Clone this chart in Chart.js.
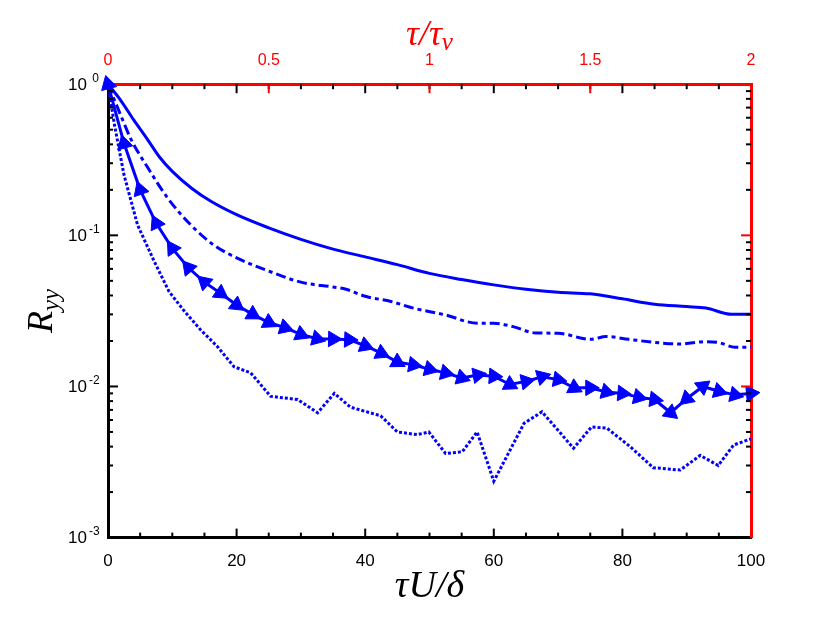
<!DOCTYPE html>
<html>
<head>
<meta charset="utf-8">
<script src="https://cdn.jsdelivr.net/npm/chart.js@4.4.1/dist/chart.umd.min.js"></script>
<style>
  html, body { margin: 0; padding: 0; background: #fff; }
  #wrap { width: 830px; height: 623px; }
</style>
</head>
<body>
<div id="wrap"><canvas id="myChart" width="830" height="623"></canvas></div>
<script>
// tau U / delta  and R_yy
const solidX = [0, 2, 4, 6, 8, 10, 13, 16, 20, 25, 30, 35, 40, 45, 50, 55, 60, 65, 70, 75, 80, 85, 90, 93, 97, 100];
const solidY = [1, 0.78, 0.58, 0.44, 0.33, 0.265, 0.205, 0.168, 0.137, 0.112, 0.094, 0.081, 0.072, 0.064, 0.056, 0.051, 0.047, 0.044, 0.042, 0.041, 0.038, 0.035, 0.0338, 0.033, 0.030, 0.030];

const dashX = [0, 2, 3.6, 6.2, 9.3, 12.9, 16.5, 20, 25, 30, 35, 37, 40, 44, 47.5, 52.5, 57.5, 60, 63, 66.5, 70, 75, 77.5, 81, 86, 89, 93, 95, 97.5, 100];
const dashY = [1, 0.62, 0.43, 0.28, 0.176, 0.117, 0.086, 0.071, 0.058, 0.049, 0.0455, 0.044, 0.0395, 0.0365, 0.033, 0.0297, 0.0262, 0.0262, 0.0249, 0.0226, 0.0225, 0.0205, 0.0214, 0.0205, 0.0194, 0.0191, 0.0198, 0.0195, 0.0182, 0.0182];

const markX = [0, 2.5, 5, 7.5, 10, 12.5, 15, 17.5, 20, 22.5, 25, 27.5, 30, 32.5, 35, 37.5, 40, 42.5, 45, 47.5, 50, 52.5, 55, 57.5, 60, 62.5, 65, 67.5, 70, 72.5, 75, 77.5, 80, 82.5, 85, 87.5, 90, 92.5, 95, 97.5, 100];
const markY = [1, 0.405, 0.20, 0.12, 0.082, 0.061, 0.049, 0.0414, 0.0346, 0.030, 0.0265, 0.0245, 0.0221, 0.0207, 0.0206, 0.0204, 0.0186, 0.0166, 0.0145, 0.0139, 0.0130, 0.0123, 0.0114, 0.0119, 0.0117, 0.0103, 0.0108, 0.0116, 0.0111, 0.0098, 0.0098, 0.0092, 0.0090, 0.0085, 0.0082, 0.0067, 0.0083, 0.0100, 0.0093, 0.0088, 0.0090];

const dotX = [0, 1, 2.5, 4.6, 7.2, 9.5, 12, 14.4, 17, 19.6, 22.2, 25.3, 29.5, 32.6, 35.2, 37.7, 42.4, 45, 48.1, 49.9, 52.5, 55.1, 57.4, 60, 64.7, 67.5, 72.4, 75.2, 77.6, 81.2, 84.8, 89, 92.1, 94.9, 97.3, 100];
const dotY = [1, 0.54, 0.25, 0.117, 0.067, 0.0424, 0.031, 0.0237, 0.0184, 0.0135, 0.0123, 0.0086, 0.0082, 0.0067, 0.0090, 0.0073, 0.0064, 0.0050, 0.0048, 0.0050, 0.0036, 0.0037, 0.0050, 0.00236, 0.0057, 0.0068, 0.0039, 0.0054, 0.0053, 0.0040, 0.0029, 0.0028, 0.0035, 0.0030, 0.0041, 0.0045];

// tick labels
const bottomTicks = [0, 20, 40, 60, 80, 100];
const topTicks = ['0', '0.5', '1', '1.5', '2'];
const yDecades = [0, -1, -2, -3];

const BLUE = '#0000ff';
const RED = '#ff0000';

function pairs(xs, ys) {
    return xs.map(function(x, i) { return { x: x, y: ys[i] }; });
}

// markers that point back along the curve
const backMarkers = [0, 1, 2, 3, 4, 5, 6, 36];

function markerRotation(ctx) {
    const i = ctx.dataIndex;
    const sx = ctx.chart.scales.x, sy = ctx.chart.scales.y;
    const px = function(k) { return [sx.getPixelForValue(markX[k]), sy.getPixelForValue(markY[k])]; };
    let a, b;
    if (backMarkers.indexOf(i) >= 0) {
        if (i === 0) { a = px(1); b = px(0); } else { a = px(i); b = px(i - 1); }
    } else {
        a = px(i - 1); b = px(i);
    }
    return Math.atan2(b[1] - a[1], b[0] - a[0]) * 180 / Math.PI + 90;
}

const decorPlugin = {
    id: 'decor',
    afterDraw: function(chart) {
        const c = chart.ctx, ca = chart.chartArea;
        const sx = chart.scales.x, sx2 = chart.scales.x2, sy = chart.scales.y;
        c.save();
        c.lineWidth = 2;
        function seg(x1, y1, x2, y2, col) {
            c.strokeStyle = col;
            c.beginPath(); c.moveTo(x1, y1); c.lineTo(x2, y2); c.stroke();
        }
        // bottom axis ticks, mirrored on top
        for (let v = 0; v <= 100; v += 5) {
            const x = sx.getPixelForValue(v);
            const len = (v % 20 === 0) ? 9 : 5;
            if (v > 0 && v < 100) {
                seg(x, ca.bottom, x, ca.bottom - len, '#000');
                seg(x, ca.top, x, ca.top + len, '#000');
            }
        }
        // top axis major ticks (red)
        for (let v = 0.5; v < 2; v += 0.5) {
            const x = sx2.getPixelForValue(v);
            seg(x, ca.top, x, ca.top + 9, RED);
        }
        // log ticks left and right
        for (let e = -3; e < 0; e++) {
            for (let m = 2; m <= 9; m++) {
                const y = sy.getPixelForValue(m * Math.pow(10, e));
                seg(ca.left, y, ca.left + 5, y, '#000');
                seg(ca.right, y, ca.right - 5, y, '#000');
            }
        }
        yDecades.forEach(function(e) {
            const y = sy.getPixelForValue(Math.pow(10, e));
            if (e > -3 && e < 0) {
                seg(ca.left, y, ca.left + 10, y, '#000');
                seg(ca.right, y, ca.right - 10, y, RED);
            }
            // y tick labels 10^e
            c.fillStyle = '#000';
            c.textBaseline = 'middle';
            c.textAlign = 'right';
            c.font = '17px "Liberation Sans", Arial, sans-serif';
            c.fillText('10', 87, y + 1);
            c.textAlign = 'left';
            c.font = '12px "Liberation Sans", Arial, sans-serif';
            c.fillText(e === 0 ? ' 0' : String(e), 89, y - 6);
        });

        // axis titles
        const serif = '"Liberation Serif", "DejaVu Serif", serif';
        c.textBaseline = 'alphabetic';
        // top title  tau / tau_v
        c.fillStyle = RED;
        c.font = 'italic 36px ' + serif;
        let t1 = '\u03c4/\u03c4';
        let w1 = c.measureText(t1).width;
        c.font = 'italic 25px ' + serif;
        let w1s = c.measureText('v').width;
        let x0 = (ca.left + ca.right) / 2 - (w1 + w1s) / 2;
        c.font = 'italic 36px ' + serif;
        c.textAlign = 'left';
        c.fillText(t1, x0, 45);
        c.font = 'italic 25px ' + serif;
        c.fillText('v', x0 + w1, 50);
        // bottom title  tau U / delta
        c.fillStyle = '#000';
        c.font = 'italic 38px ' + serif;
        c.textAlign = 'center';
        c.fillText('\u03c4U/\u03b4', (ca.left + ca.right) / 2, 597);
        // left title R_yy
        c.translate(52, (ca.top + ca.bottom) / 2);
        c.rotate(-Math.PI / 2);
        c.font = 'italic 36px ' + serif;
        const wr = c.measureText('R').width;
        c.font = 'italic 25px ' + serif;
        const ws = c.measureText('yy').width;
        c.textAlign = 'left';
        c.font = 'italic 36px ' + serif;
        c.fillText('R', -(wr + ws) / 2, 0);
        c.font = 'italic 25px ' + serif;
        c.fillText('yy', -(wr + ws) / 2 + wr, 7);
        c.restore();
    }
};

const ctx = document.getElementById('myChart').getContext('2d');
const myChart = new Chart(ctx, {
    type: 'line',
    data: {
        datasets: [
            {
                label: 'solid',
                data: pairs(solidX, solidY),
                borderColor: BLUE,
                borderWidth: 3,
                pointRadius: 0,
                cubicInterpolationMode: 'monotone',
                fill: false
            },
            {
                label: 'dash-dot',
                data: pairs(dashX, dashY),
                borderColor: BLUE,
                borderWidth: 3,
                borderDash: [10, 4, 4, 4],
                pointRadius: 0,
                cubicInterpolationMode: 'monotone',
                fill: false
            },
            {
                label: 'markers',
                data: pairs(markX, markY),
                borderColor: BLUE,
                backgroundColor: BLUE,
                borderWidth: 3,
                pointStyle: 'triangle',
                pointRadius: 9,
                pointBorderWidth: 1,
                pointRotation: markerRotation,
                tension: 0,
                clip: false,
                fill: false
            },
            {
                label: 'dotted',
                data: pairs(dotX, dotY),
                borderColor: BLUE,
                borderWidth: 3,
                borderDash: [3, 2],
                borderCapStyle: 'butt',
                pointRadius: 0,
                tension: 0,
                fill: false
            }
        ]
    },
    options: {
        responsive: false,
        animation: false,
        layout: { padding: { left: 100, right: 71, top: 45, bottom: 45 } },
        plugins: {
            legend: { display: false },
            tooltip: { enabled: false }
        },
        scales: {
            x: {
                type: 'linear',
                position: 'bottom',
                min: 0,
                max: 100,
                afterBuildTicks: function(scale) {
                    scale.ticks = bottomTicks.map(function(v) { return { value: v }; });
                },
                ticks: {
                    color: '#000',
                    padding: 6,
                    maxRotation: 0,
                    autoSkip: false,
                    font: { family: '"Liberation Sans", Arial, sans-serif', size: 17 }
                },
                grid: { display: false },
                border: { color: '#000', width: 3 }
            },
            x2: {
                type: 'linear',
                position: 'top',
                min: 0,
                max: 2,
                afterBuildTicks: function(scale) {
                    scale.ticks = topTicks.map(function(v) { return { value: parseFloat(v) }; });
                },
                ticks: {
                    color: RED,
                    padding: 6,
                    maxRotation: 0,
                    autoSkip: false,
                    callback: function(value, i) { return topTicks[i]; },
                    font: { family: '"Liberation Sans", Arial, sans-serif', size: 16 }
                },
                grid: { display: false },
                border: { color: RED, width: 3 }
            },
            y: {
                type: 'logarithmic',
                position: 'left',
                min: 0.001,
                max: 1,
                ticks: { display: false },
                grid: { display: false },
                border: { color: '#000', width: 3 }
            },
            y2: {
                type: 'logarithmic',
                position: 'right',
                min: 0.001,
                max: 1,
                ticks: { display: false },
                grid: { display: false },
                border: { color: RED, width: 3 }
            }
        }
    },
    plugins: [decorPlugin]
});
</script>
</body>
</html>
